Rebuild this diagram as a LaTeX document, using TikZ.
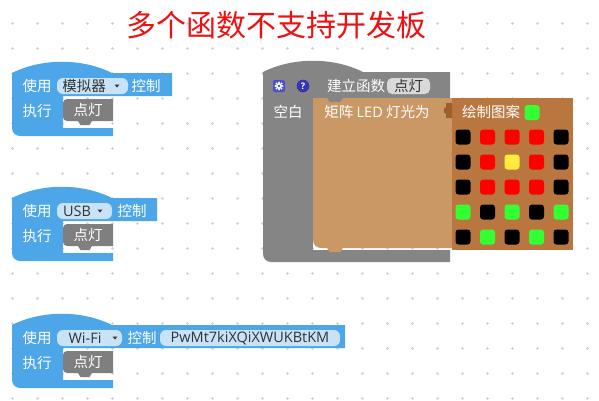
\documentclass[tikz,border=0pt]{standalone}
\usepackage{fontspec}
\usetikzlibrary{calc}
\setmainfont{Noto Sans CJK SC}
\newfontfamily\latinfont{Open Sans}
\definecolor{blockblue}{HTML}{4CA6E8}
\definecolor{pillblue}{HTML}{C8E3F8}
\definecolor{pilltext}{HTML}{333333}
\definecolor{callgray}{HTML}{7F7F7F}
\definecolor{fungray}{HTML}{858585}
\definecolor{fieldgray}{HTML}{D9D9D9}
\definecolor{tan}{HTML}{CA9864}
\definecolor{imgbrown}{HTML}{B9773F}
\definecolor{tabbrown}{HTML}{9E5F2C}
\definecolor{ledred}{HTML}{FF0000}
\definecolor{ledyellow}{HTML}{FFEB3B}
\definecolor{ledgreen}{HTML}{33FF33}
\definecolor{ledblack}{HTML}{000000}
\definecolor{titlered}{HTML}{EE1111}
\definecolor{gearblue}{HTML}{4F4FCB}
\definecolor{helpblue}{HTML}{3434B4}
\definecolor{dotgray}{HTML}{D2D2D2}
\newcommand\myevent[2]{% #1 = y shift, #2 = right edge of top row
\begin{scope}[shift={(0,#1)}]
\fill[blockblue] (12,73) .. controls (42,58) and (82,58) .. (112,73) -- (#2,73) -- (#2,96)
  -- (63,96) -- (63,128) -- (113,128) -- (113,136) -- (20,136)
  .. controls (15.6,136) and (12,132.4) .. (12,128) -- cycle;
\fill[callgray] (67,99) -- (113,99) -- (113,121) -- (92,121) -- (89.5,125) -- (80.5,125) -- (78,121) -- (67,121)
  .. controls (64.8,121) and (63,119.2) .. (63,117) -- (63,103) .. controls (63,100.8) and (64.8,99) .. (67,99) -- cycle;
\end{scope}}
\begin{document}
\begin{tikzpicture}[x=1pt,y=-1pt,
  wtext/.style={text=white,inner sep=0pt,font=\fontsize{14.5}{16}\selectfont},
  dtext/.style={text=pilltext,inner sep=0pt,font=\fontsize{14.5}{16}\selectfont},
  ltext/.style={text=pilltext,inner sep=0pt,font=\latinfont\fontsize{14.5}{16}\selectfont},
  pill/.style={fill=pillblue,rounded corners=6pt},
  led/.style={minimum width=15pt,minimum height=15pt,inner sep=0pt,rounded corners=3pt,draw=none}]
\useasboundingbox (0,0) rectangle (599,400);
\fill[white] (0,0) rectangle (599,400);
% dot grid
\foreach \i in {0,...,23}{
  \foreach \j in {0,...,15}{
    \draw[dotgray,line width=0.6pt] ({12+25*\i-1.5},{23+25*\j}) -- ({12+25*\i+1.5},{23+25*\j})
      ({12+25*\i},{23+25*\j-1.5}) -- ({12+25*\i},{23+25*\j+1.5});
  }
}
% title
\node[text=titlered,inner sep=0pt,font=\fontsize{30}{32}\selectfont] (title) at (276,25) {多个函数不支持开发板};

\myevent{0}{172}
\myevent{125}{157}
\myevent{252}{345}

% block 1 texts
\node[wtext] (use1) at (37,86) {使用};
\fill[pill] (57,78) rectangle (128,94);
\node[dtext] (dd1) at (84,86) {模拟器};
\fill[pilltext] (114.5,84.5) -- (119.5,84.5) -- (117,87.5) -- cycle;
\node[wtext] (ctl1) at (146,86) {控制};
\node[wtext] (exe1) at (37,111) {执行};
\node[wtext] (call1) at (88,110) {点灯};

% block 2 texts
\node[wtext] (use2) at (37,211) {使用};
\fill[pill] (57,203) rectangle (112,219);
\node[ltext] (dd2) at (77,211) {USB};
\fill[pilltext] (97.5,209.5) -- (102.5,209.5) -- (100,212.5) -- cycle;
\node[wtext] (ctl2) at (132,211) {控制};
\node[wtext] (exe2) at (37,236) {执行};
\node[wtext] (call2) at (88,235) {点灯};

% block 3 texts
\node[wtext] (use3) at (37,338) {使用};
\fill[pill] (57,330) rectangle (122,346);
\node[ltext] (dd3) at (85,338) {Wi-Fi};
\fill[pilltext] (112.5,336.5) -- (117.5,336.5) -- (115,339.5) -- cycle;
\node[wtext] (ctl3) at (142,338) {控制};
\fill[pill] (160,330) rectangle (340,346);
\node[ltext] (key3) at (250,338) {PwMt7kiXQiXWUKBtKM};
\node[wtext] (exe3) at (37,363) {执行};
\node[wtext] (call3) at (88,362) {点灯};

% ---------- function definition ----------
\fill[fungray] (263,72) .. controls (293,57) and (333,57) .. (363,72) -- (450,72) -- (450,98)
  -- (313,98) -- (313,250) -- (450,250) -- (450,262) -- (271,262)
  .. controls (266.6,262) and (263,258.4) .. (263,254) -- cycle;
% gear icon
\fill[gearblue,rounded corners=2pt] (273,80) rectangle (285,92);
\foreach \a in {0,45,...,315}{
  \fill[white] ($(279,86)+(\a:3.6)$) circle (1pt);
}
\fill[white] (279,86) circle (3pt);
\fill[gearblue] (279,86) circle (1.3pt);
% help icon
\fill[helpblue] (303,86) circle (6.3pt);
\node[text=white,inner sep=0pt,font=\latinfont\bfseries\fontsize{9}{10}\selectfont] (help) at (303,86) {?};
\node[wtext] (deftitle) at (356,86) {建立函数};
\fill[fieldgray,rounded corners=5pt] (387,78) rectangle (430,94);
\node[dtext] (fname) at (408.5,86) {点灯};
\node[wtext] (empty) at (288,112) {空白};

% tan matrix block
\fill[tan] (313,98) -- (452,98) -- (452,248) -- (343,248) -- (340,252) -- (330,252) -- (327,248) -- (321,248)
  .. controls (316.6,248) and (313,244.4) .. (313,240) -- cycle;
\fill[fungray] (327,98) -- (330,102) -- (340,102) -- (343,98) -- cycle;
\node[wtext] (matrix) at (377,112) {矩阵 {\latinfont LED} 灯光为};

% image block
\fill[imgbrown] (452,98) rectangle (573,250);
\fill[tabbrown] (452,103) -- (446,103) -- (446,107) .. controls (443,108) and (443,113) .. (446,114) -- (446,118) -- (452,118) -- cycle;
\node[wtext] (draw) at (491,112) {绘制图案};
\node[led,fill=ledgreen] (swatch) at (532,112.5) {};

% LED grid
\foreach \row/\cols in {1/{ledblack,ledred,ledred,ledred,ledblack},
                        2/{ledblack,ledred,ledyellow,ledred,ledblack},
                        3/{ledblack,ledred,ledred,ledred,ledblack},
                        4/{ledgreen,ledblack,ledgreen,ledblack,ledgreen},
                        5/{ledblack,ledgreen,ledblack,ledgreen,ledblack}}{
  \foreach \c [count=\col] in \cols {
    \node[led,fill=\c] (led-\row-\col) at ({463+24.5*(\col-1)},{137+25*(\row-1)}) {};
  }
}
\end{tikzpicture}
\end{document}
